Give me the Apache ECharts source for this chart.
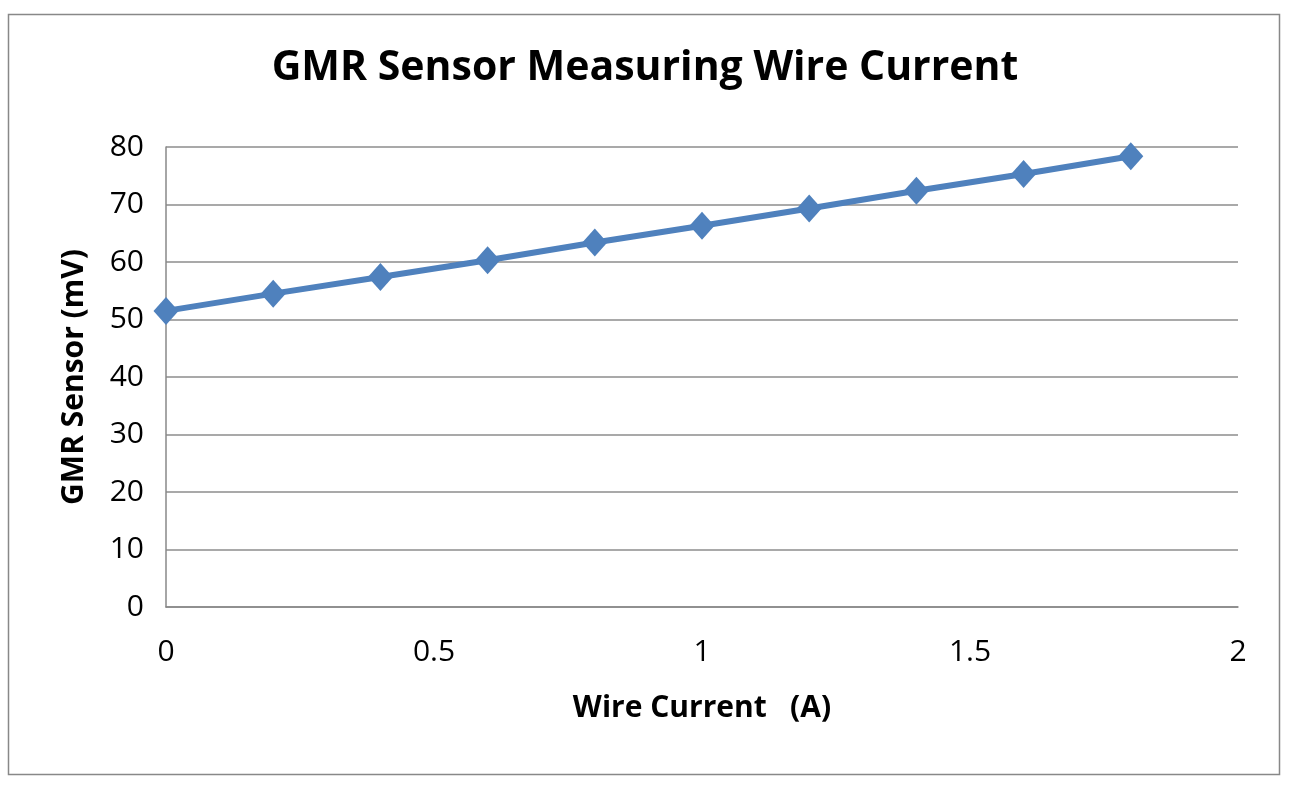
<!DOCTYPE html>
<html>
<head>
<meta charset="utf-8">
<script src="https://cdn.jsdelivr.net/npm/echarts@6/dist/echarts.min.js"></script>
<style>
html,body{margin:0;padding:0;background:#fff;}
#chart{width:1290px;height:790px;}
</style>
</head>
<body>
<div id="chart"></div>
<script>
const currents = [0, 0.2, 0.4, 0.6, 0.8, 1.0, 1.2, 1.4, 1.6, 1.8];
const sensorMv = [51.5, 54.5, 57.4, 60.3, 63.4, 66.3, 69.3, 72.4, 75.3, 78.4];

const chart = echarts.init(document.getElementById('chart'));
const font = '"Open Sans", "Liberation Sans", sans-serif';
chart.setOption({
  backgroundColor: '#fff',
  animation: false,
  graphic: [{
    type: 'rect', shape: {x: 8.5, y: 14.5, width: 1271, height: 760},
    style: {fill: 'none', stroke: '#888', lineWidth: 1.5}, silent: true
  }],
  title: {
    text: 'GMR Sensor Measuring Wire Current',
    left: 'center', top: 43,
    textStyle: {fontFamily: font, fontWeight: 'bold', fontSize: 41, color: '#000'}
  },
  grid: {left: 166, right: 52, top: 147, bottom: 183},
  xAxis: {
    type: 'value', min: 0, max: 2, interval: 0.5,
    name: 'Wire Current   (A)', nameLocation: 'middle', nameGap: 86,
    nameTextStyle: {fontFamily: font, fontWeight: 'bold', fontSize: 30, color: '#000'},
    axisLine: {show: true, lineStyle: {color: '#888', width: 1.5}},
    axisTick: {show: false},
    splitLine: {show: false},
    axisLabel: {fontFamily: font, fontSize: 30, color: '#000', margin: 30,
      formatter: v => String(v)}
  },
  yAxis: {
    type: 'value', min: 0, max: 80, interval: 10,
    name: 'GMR Sensor (mV)', nameLocation: 'middle', nameGap: 77,
    nameTextStyle: {fontFamily: font, fontWeight: 'bold', fontSize: 30, color: '#000'},
    axisLine: {show: true, lineStyle: {color: '#888', width: 1.5}},
    axisTick: {show: false},
    splitLine: {show: true, lineStyle: {color: '#8c8c8c', width: 1.5}},
    axisLabel: {fontFamily: font, fontSize: 30, color: '#000', margin: 22}
  },
  series: [{
    type: 'line',
    data: currents.map((c, i) => [c, sensorMv[i]]),
    symbol: 'diamond', symbolSize: [25, 28],
    lineStyle: {color: '#4F81BD', width: 6},
    itemStyle: {color: '#4F81BD'}
  }]
});
</script>
</body>
</html>
